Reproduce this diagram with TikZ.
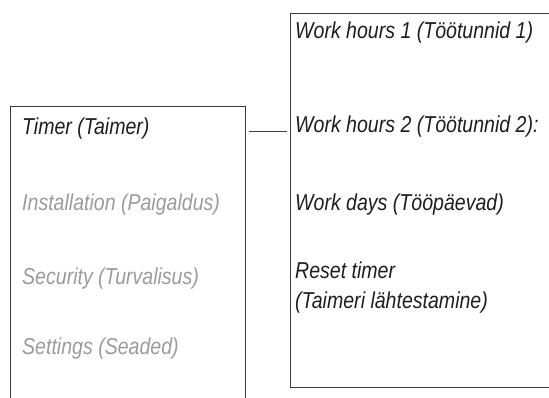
\documentclass[tikz,border=0pt]{standalone}
\usepackage{fontspec}
\setmainfont{Liberation Sans}[FakeStretch=0.85]
\usetikzlibrary{positioning}
\definecolor{menuGray}{RGB}{155, 155, 155}
\definecolor{menuText}{RGB}{30, 30, 30}
\definecolor{menuLine}{RGB}{60, 60, 60}

\begin{document}
\begin{tikzpicture}[x=1pt, y=-1pt,
    every node/.style={font=\fontsize{23}{30}\selectfont\itshape, inner sep=0pt, anchor=base west},
    item/.style={text=menuText},
    greyed/.style={text=menuGray},
    panel/.style={anchor=north west, inner sep=0pt},
    border/.style={draw=menuLine, line width=0.9pt}
]
    \useasboundingbox (0,0) rectangle (549,397);
    % main menu (bottom cut off) and timer sub menu (right side cut off)
    \node[panel, minimum width=235pt, minimum height=320pt] (menu) at (10,106) {};
    \node[panel, minimum width=300pt, minimum height=374pt] (sub) at (290,13) {};
    \draw[border] (menu.south west) -- (menu.north west) -- (menu.north east) -- (menu.south east);
    \draw[border] (sub.north east) -- (sub.north west) -- (sub.south west) -- (sub.south east);
    % main menu entries
    \node[item] (timer) at (22,134) {Timer (Taimer)};
    \node[greyed] (install) at (22,210) {Installation (Paigaldus)};
    \node[greyed] (security) at (22,284) {Security (Turvalisus)};
    \node[greyed] (settings) at (22,354) {Settings (Seaded)};
    % timer entries
    \node[item] (hours1) at (295,38) {Work hours 1 (Töötunnid 1)};
    \node[item] (hours2) at (295,132) {Work hours 2 (Töötunnid 2):};
    \node[item] (days) at (295,210) {Work days (Tööpäevad)};
    \node[item] (reset) at (295,278) {Reset timer};
    \node[item] (resetet) at (295,308) {(Taimeri lähtestamine)};
    % link between the two menus
    \draw[border] ([xshift=4pt]menu.east |- timer.mid) -- ([xshift=-3pt]sub.west |- timer.mid);
\end{tikzpicture}
\end{document}
